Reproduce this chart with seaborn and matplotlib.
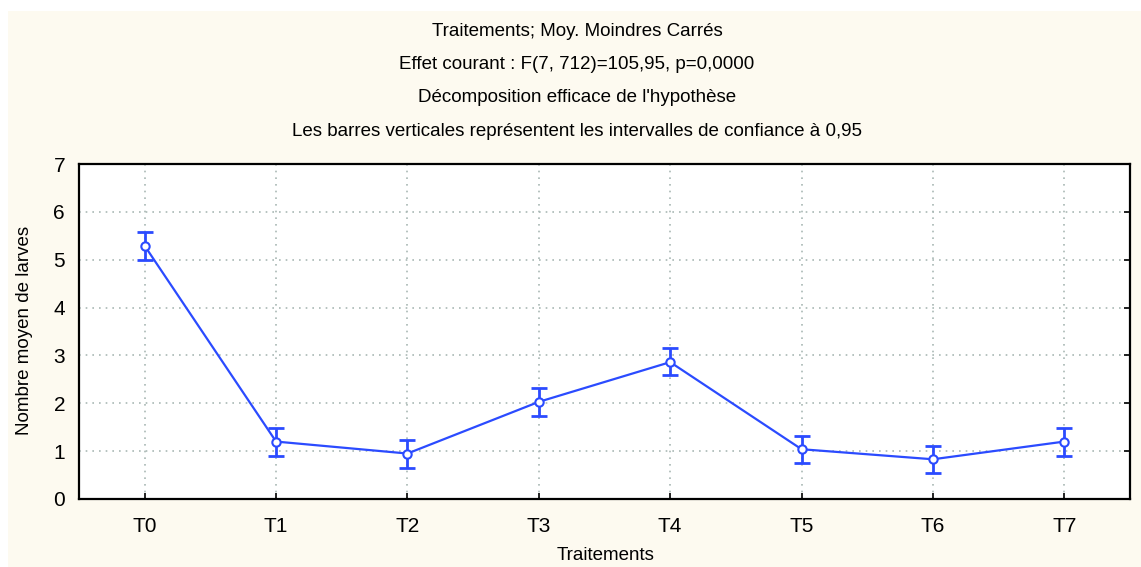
import matplotlib
matplotlib.use("Agg")
import matplotlib.pyplot as plt
from matplotlib.patches import Rectangle
import seaborn as sns
import pandas as pd

# Least-squares means per treatment with 95% confidence limits
treatments = ["T0", "T1", "T2", "T3", "T4", "T5", "T6", "T7"]
means = [5.29, 1.20, 0.95, 2.03, 2.86, 1.04, 0.83, 1.20]
ci_lower = [5.00, 0.90, 0.65, 1.74, 2.59, 0.75, 0.54, 0.90]
ci_upper = [5.57, 1.48, 1.23, 2.31, 3.16, 1.32, 1.11, 1.48]

title_lines = [
    "Traitements; Moy. Moindres Carrés",
    "Effet courant : F(7, 712)=105,95, p=0,0000",
    "Décomposition efficace de l'hypothèse",
    "Les barres verticales représentent les intervalles de confiance à 0,95",
]

sns.set_theme(style="white")
plt.rcParams["font.family"] = ["Liberation Sans Narrow", "Liberation Sans", "DejaVu Sans"]
plt.rcParams["text.color"] = "black"

df = pd.DataFrame({"pos": range(len(treatments)), "mean": means})
df["lo"] = df["mean"] - pd.Series(ci_lower)
df["hi"] = pd.Series(ci_upper) - df["mean"]

W, H = 1141, 567
fig = plt.figure(figsize=(W / 100, H / 100), dpi=100, facecolor="white")
# cream panel behind the plot
fig.patches.append(Rectangle((8 / W, 0), 1 - 8 / W, 1 - 11 / H,
                             transform=fig.transFigure, facecolor="#fdfaf0",
                             edgecolor="none", zorder=-10))

ax = fig.add_axes([79 / W, 1 - 499 / H, (1130 - 79) / W, (499 - 164) / H])
ax.set_facecolor("white")

blue = "#2b4bff"
ax.errorbar(df["pos"], df["mean"], yerr=[df["lo"], df["hi"]], fmt="none",
            ecolor=blue, elinewidth=2.0, capsize=6, capthick=2.0, zorder=3)
sns.lineplot(data=df, x="pos", y="mean", ax=ax, color=blue, linewidth=1.6,
             marker="o", markersize=6, markerfacecolor="white",
             markeredgecolor=blue, markeredgewidth=1.5, zorder=4)

ax.set_xlim(-0.5, 7.5)
ax.set_ylim(0, 7)
ax.set_xticks(range(len(treatments)))
ax.set_xticklabels(treatments)
ax.set_yticks(range(0, 8))

ax.grid(True, color="#a9b8b4", linestyle=(0, (1, 3)), linewidth=1.2)
for s in ax.spines.values():
    s.set_color("black")
    s.set_linewidth(1.6)
ax.tick_params(axis="both", direction="in", length=4, width=1.2,
               labelsize=15, colors="black", pad=13)
ax.tick_params(axis="y", right=True, pad=10)
ax.tick_params(axis="x", bottom=True, top=False)

ax.set_xlabel("")
ax.set_ylabel("")
fig.text(606 / W, 1 - 555 / H, "Traitements", ha="center", va="center", fontsize=13.5)
fig.text(25 / W, 1 - 330 / H, "Nombre moyen de larves", ha="center", va="center",
         rotation=90, fontsize=13.5)

for line, y in zip(title_lines, [32, 65, 98, 131]):
    fig.text(577 / W, 1 - y / H, line, ha="center", va="center", fontsize=13.5)

fig.savefig("out.png", dpi=100, facecolor=fig.get_facecolor())
